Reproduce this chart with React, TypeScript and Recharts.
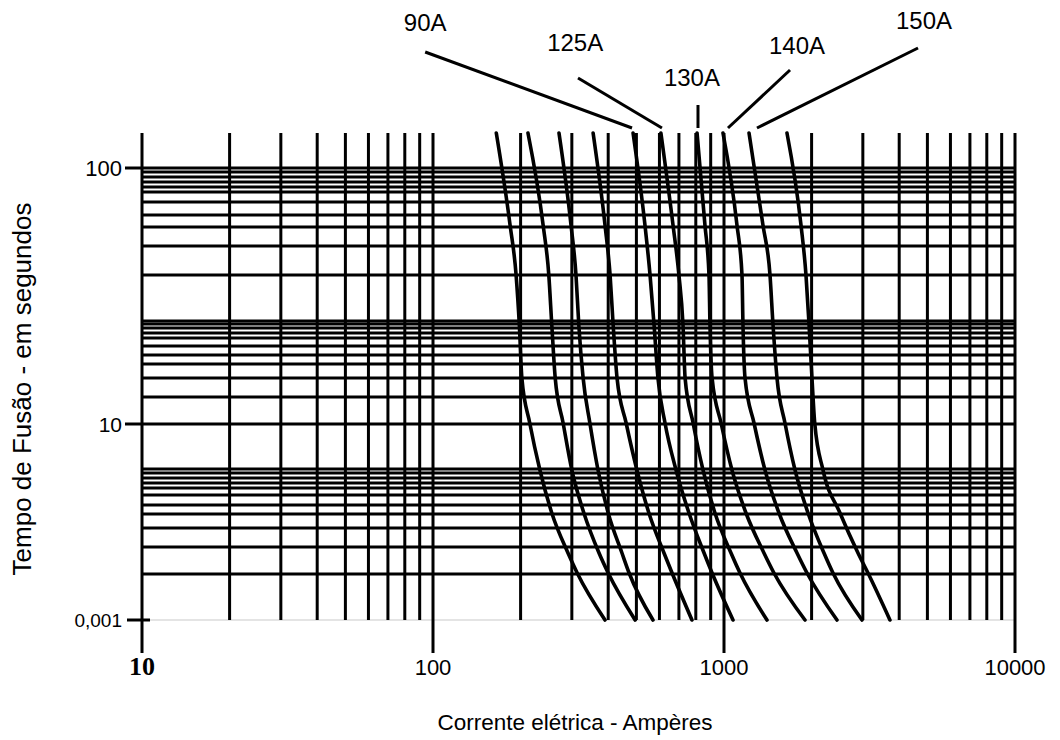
import React from 'react';
import { LineChart, Line, XAxis, YAxis, ReferenceLine, ReferenceDot, Label } from 'recharts';

// ---- axis / grid values ----
const xMajor = [10, 100, 1000, 10000];
const xTickLabels = ['10', '100', '1000', '10000'];
const xMinor = [20, 30, 40, 50, 60, 70, 80, 90, 200, 300, 400, 500, 600, 700, 800, 900, 2000, 3000, 4000, 5000, 6000, 7000, 8000, 9000];
// vertical position scale (chart units), grid rows
const yGridTop = [485, 481, 476, 471, 466, 461, 451, 438, 426, 407, 378];
const yGridMid = [332, 329, 325, 320, 315, 307, 298, 289, 275, 256, 229];
const yGridLow = [184, 180, 175, 170, 165, 158, 148, 139, 125, 106, 79];
const yTicks = [485, 229, 33];
const yTickLabels = ['100', '10', '0,001'];
const gridTop = 520;
const minorBottom = 33;
const majorBottom = 0;

// ---- fuse curves: current (A) at shared time positions ----
const curveTimes = [520, 428, 378, 328, 275, 230, 183, 140, 100, 80, 33];
const curveA = [165, 184, 193, 198, 202, 215, 233, 256, 291, 313, 390];
const curveB = [212, 239, 250, 256, 263, 280, 300, 330, 372, 400, 495];
const curveC = [271, 298, 310, 317, 328, 346, 369, 400, 446, 472, 570];
const curveD = [355, 390, 406, 416, 429, 461, 502, 552, 622, 663, 776];
const curve90 = [487, 535, 557, 575, 593, 627, 684, 758, 854, 910, 1074];
const curve125 = [607, 668, 700, 723, 735, 783, 847, 931, 1057, 1135, 1405];
const curve130 = [808, 860, 888, 895, 910, 977, 1065, 1190, 1372, 1485, 1898];
const curve140 = [992, 1108, 1153, 1162, 1181, 1268, 1383, 1545, 1782, 1929, 2445];
const curve150 = [1219, 1361, 1439, 1474, 1521, 1620, 1754, 1944, 2206, 2369, 2980];
const curveJ = [1646, 1839, 1913, 1960, 2006, 2050, 2189, 2504, 2887, 3125, 3718];
const curves = [curveA, curveB, curveC, curveD, curve90, curve125, curve130, curve140, curve150, curveJ];

// ---- fuse rating labels with leader lines ----
const ratingNames = ['90A', '125A', '130A', '140A', '150A'];
const ratingLabelX = [94, 308, 776, 1782, 4868];
const ratingLabelY = [631, 611, 576, 608, 633];
const leaderStartX = [94, 315, 814, 1686, 4642];
const leaderStartY = [601, 575, 548, 583, 605];
const leaderEndX = [483, 612, 814, 1032, 1298];
const leaderEndY = [525, 525, 525, 525, 525];

const W = 1060;
const H = 740;
const PLOT_LEFT = 142;
const PLOT_BOTTOM = 653;
const FONT = '"Liberation Sans", Arial, sans-serif';

const XTick = (props: any) => {
  const { x, payload } = props;
  const i = xMajor.indexOf(payload.value);
  const isFirst = i === 0;
  return (
    <text
      x={x}
      y={PLOT_BOTTOM + 22}
      textAnchor="middle"
      fontFamily={isFirst ? '"Liberation Serif", "Times New Roman", serif' : FONT}
      fontWeight={isFirst ? 'bold' : 'normal'}
      fontSize={isFirst ? 26 : 22}
      fill="#000"
    >
      {xTickLabels[i]}
    </text>
  );
};

const YTick = (props: any) => {
  const { y, payload } = props;
  const i = yTicks.indexOf(payload.value);
  const sizes = [22, 21, 19];
  const last = i === 2;
  return (
    <g>
      <line
        x1={PLOT_LEFT - (last ? 15 : 17)}
        x2={PLOT_LEFT + (last ? 8 : 0)}
        y1={y}
        y2={y}
        stroke="#000"
        strokeWidth={3}
      />
      <text
        x={PLOT_LEFT - 20}
        y={y}
        dy="0.36em"
        textAnchor="end"
        fontFamily={FONT}
        fontSize={sizes[i]}
        fill="#000"
      >
        {yTickLabels[i]}
      </text>
    </g>
  );
};

const YTitle = () => (
  <text
    x={22}
    y={389}
    transform="rotate(-90 22 389)"
    textAnchor="middle"
    dominantBaseline="central"
    fontFamily={FONT}
    fontSize={26}
    fill="#000"
  >
    Tempo de Fusão - em segundos
  </text>
);

const XTitle = () => (
  <text
    x={575}
    y={722}
    textAnchor="middle"
    dominantBaseline="central"
    fontFamily={FONT}
    fontSize={22.5}
    fill="#000"
  >
    Corrente elétrica - Ampères
  </text>
);

export default function App() {
  return (
    <div style={{ position: 'absolute', left: 0, top: 0, width: W, height: H, background: '#fff' }}>
      <LineChart width={W} height={H} margin={{ top: 3, right: 45, bottom: 0, left: 0 }}>
        <XAxis
          type="number"
          dataKey="x"
          scale="log"
          domain={[10, 10000]}
          ticks={xMajor}
          interval={0}
          allowDataOverflow
          axisLine={false}
          tickLine={false}
          height={87}
          tick={<XTick />}
        >
          <Label content={<XTitle />} />
        </XAxis>
        <YAxis
          type="number"
          dataKey="y"
          domain={[0, 650]}
          ticks={yTicks}
          interval={0}
          allowDataOverflow
          axisLine={false}
          tickLine={false}
          width={142}
          tick={<YTick />}
        >
          <Label content={<YTitle />} />
        </YAxis>

        <ReferenceLine y={minorBottom} stroke="#e4e4e4" strokeWidth={2} />
        {[...yGridTop, ...yGridMid, ...yGridLow].map((v) => (
          <ReferenceLine key={'h' + v} y={v} stroke="#000" strokeWidth={3} />
        ))}
        {xMinor.map((v) => (
          <ReferenceLine
            key={'vm' + v}
            segment={[{ x: v, y: gridTop }, { x: v, y: minorBottom }]}
            stroke="#000"
            strokeWidth={3}
          />
        ))}
        {xMajor.map((v) => (
          <ReferenceLine
            key={'vM' + v}
            segment={[{ x: v, y: gridTop }, { x: v, y: majorBottom }]}
            stroke="#000"
            strokeWidth={3}
          />
        ))}

        {curves.map((c, k) => (
          <Line
            key={'c' + k}
            data={c.map((x, i) => ({ x, y: curveTimes[i] }))}
            dataKey="y"
            type="monotone"
            stroke="#000"
            strokeWidth={3.6}
            strokeLinecap="round"
            dot={false}
            activeDot={false}
            isAnimationActive={false}
          />
        ))}

        {ratingNames.map((n, i) => (
          <ReferenceLine
            key={'l' + n}
            segment={[
              { x: leaderStartX[i], y: leaderStartY[i] },
              { x: leaderEndX[i], y: leaderEndY[i] },
            ]}
            stroke="#000"
            strokeWidth={3}
            ifOverflow="visible"
          />
        ))}
        {ratingNames.map((n, i) => (
          <ReferenceDot
            key={'t' + n}
            x={ratingLabelX[i]}
            y={ratingLabelY[i]}
            r={0}
            fill="none"
            stroke="none"
            ifOverflow="visible"
            label={{ value: n, position: 'center', fontSize: 24, fill: '#000', fontFamily: FONT }}
          />
        ))}
      </LineChart>
    </div>
  );
}
